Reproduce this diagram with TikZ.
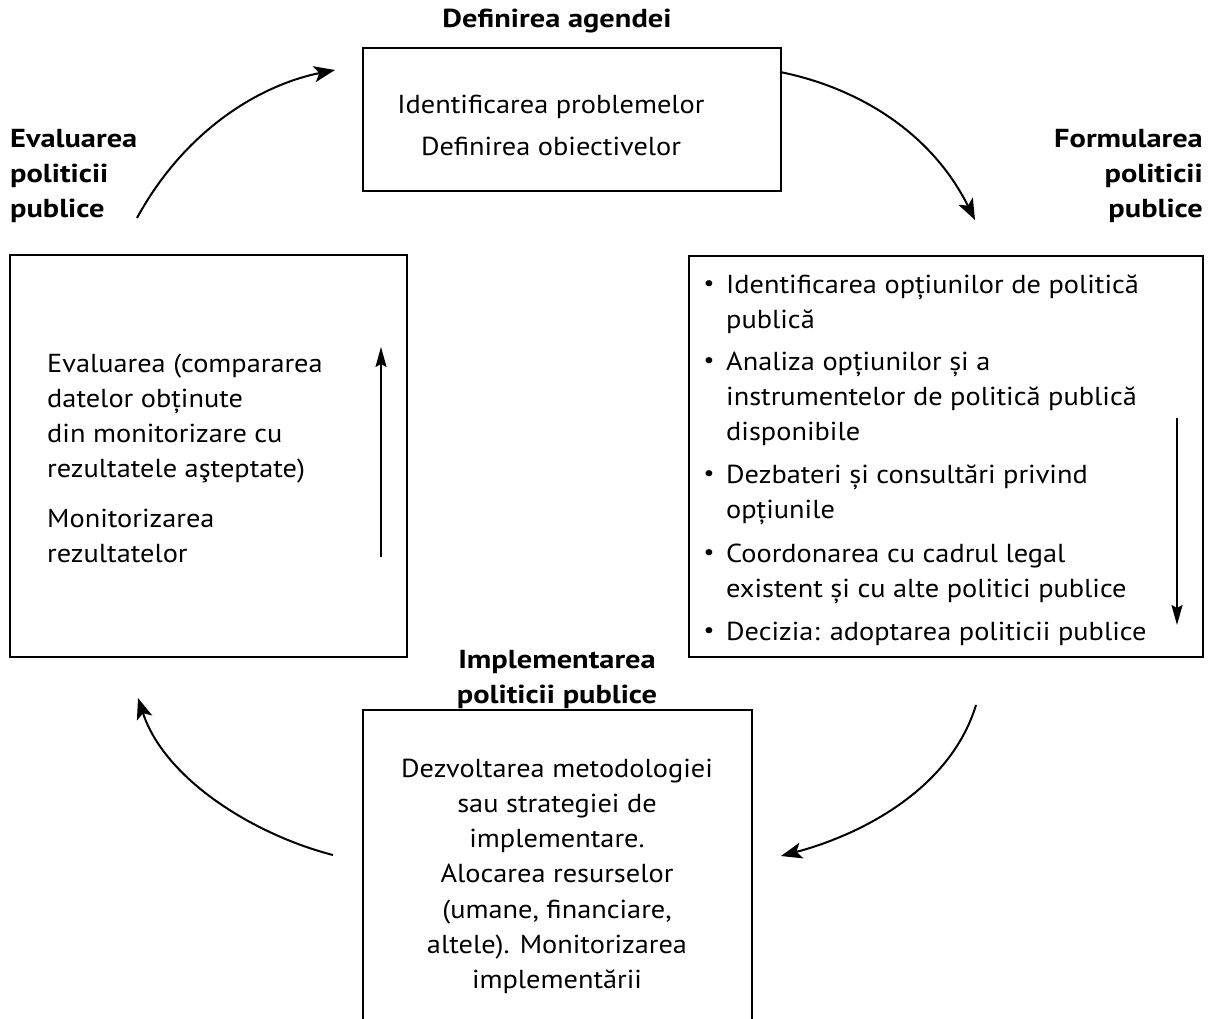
\documentclass[tikz,border=0pt]{standalone}
\usepackage{fontspec}
\setmainfont{PT Sans}[FakeStretch=1.09, BoldFeatures={FakeStretch=1.17}]
\usetikzlibrary{arrows.meta}
\newcommand\fst{\rule{0pt}{22pt}}
\tikzset{
  box/.style={draw, line width=2.2pt},
  txt/.style={inner sep=0pt, font=\fontsize{26}{35.2}\selectfont},
  ttl/.style={inner sep=0pt, font=\fontsize{26}{35}\selectfont\bfseries},
  bul/.style={inner sep=0pt, font=\fontsize{22}{24}\selectfont},
  cyc/.style={line width=2pt, -{Stealth[length=21pt,width=16pt,inset=5pt]}},
  inarr/.style={line width=2pt, -{Stealth[length=20pt,width=11pt,inset=3pt]}},
}
\begin{document}
\begin{tikzpicture}[x=1pt,y=-1pt]
\useasboundingbox (0,0) rectangle (1212,1019);
% boxes
\draw[box] (363,48) rectangle (781,191);
\coordinate (topbox) at (572,119);
\draw[box] (10,255) rectangle (407,657);
\coordinate (leftbox) at (208,456);
\draw[box] (689,256) rectangle (1203,657);
\coordinate (rightbox) at (946,456);
\draw[box] (363,1022) |- (752,710) -- (752,1022);
\coordinate (botbox) at (557,860);

% titles
\node[ttl, anchor=base] (t1) at (557,28) {Definirea agendei};
\node[ttl, anchor=north west, align=left] (t2) at (10,147-22) {\fst Evaluarea\\politicii\\publice};
\node[ttl, anchor=north east, align=right] (t3) at (1203,147-22) {\fst Formularea\\politicii\\publice};
\node[ttl, anchor=north, align=center] (t4) at (557,668-22) {\fst Implementarea\\politicii publice};

% top box text
\node[txt, anchor=north, align=center, font=\fontsize{26}{42}\selectfont] (a1) at (551,113-22) {\fst Identificarea problemelor\\Definirea obiectivelor};

% left box text
\node[txt, anchor=north west, align=left] (l1) at (47,372-22) {\fst Evaluarea (compararea\\datelor obținute\\din monitorizare cu\\rezultatele aşteptate)};
\node[txt, anchor=north west, align=left] (l2) at (47,527-22) {\fst Monitorizarea\\rezultatelor};

% right box items
\foreach \y/\t [count=\i] in {293/{Identificarea opțiunilor de politică\\publică},
  370/{Analiza opțiunilor și a\\instrumentelor de politică publică\\disponibile},
  483/{Dezbateri și consultări privind\\opțiunile},
  562/{Coordonarea cu cadrul legal\\existent și cu alte politici publice},
  640/{Decizia: adoptarea politicii publice}}{
  \node[txt, anchor=north west, align=left] (r\i) at (726,\y-22) {\fst\t};
  \node[bul, anchor=center] (b\i) at (709,\y-7) {•};
}

% bottom box text
\node[txt, anchor=north, align=center] (d1) at (557,777-22) {\fst Dezvoltarea metodologiei\\sau strategiei de\\implementare.\\Alocarea resurselor\\(umane, financiare,\\altele). Monitorizarea\\implementării};

% cycle arrows
\coordinate (s1) at (137,218); \coordinate (e1) at (335,70);
\coordinate (s2) at (780,72); \coordinate (e2) at (975,220);
\coordinate (s3) at (976,705); \coordinate (e3) at (781,856);
\coordinate (s4) at (333,855); \coordinate (e4) at (138,698);
\draw[cyc] (s1) .. controls (185,130) and (260,85) .. (e1);
\draw[cyc] (s2) .. controls (855,87) and (930,130) .. (e2);
\draw[cyc] (s3) .. controls (950,790) and (860,835) .. (e3);
\draw[cyc] (s4) .. controls (255,835) and (165,780) .. (e4);

% inner arrows
\coordinate (u1) at (381,557); \coordinate (u2) at (381,347);
\coordinate (v1) at (1177,418); \coordinate (v2) at (1177,625);
\draw[inarr] (u1) -- (u2);
\draw[inarr] (v1) -- (v2);
\end{tikzpicture}
\end{document}
